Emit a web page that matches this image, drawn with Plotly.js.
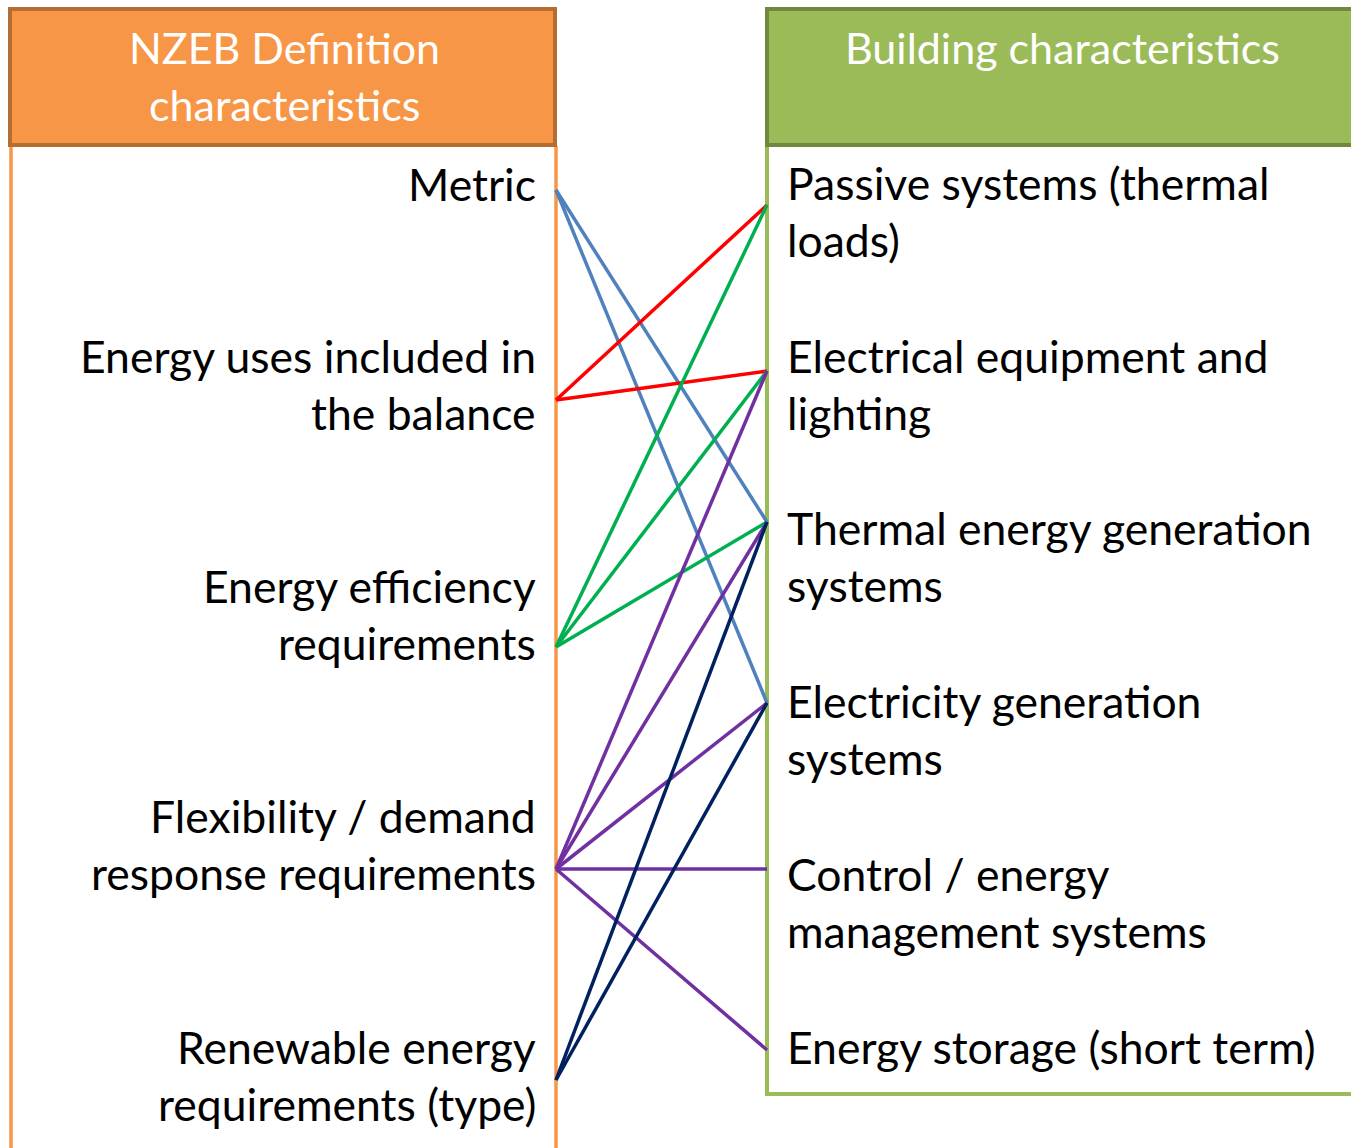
<!DOCTYPE html>
<html>
<head>
<meta charset="utf-8">
<script src="https://cdn.plot.ly/plotly-3.0.1.min.js"></script>
<style>html,body{margin:0;padding:0;background:#fff;}#chart{width:1351px;height:1148px;}</style>
</head>
<body>
<div id="chart"></div>
<script>
// ---- data ----
const leftTitle = ["NZEB Definition", "characteristics"];
const rightTitle = ["Building characteristics"];
const leftLabels = [
  ["Metric"],
  ["Energy uses included in", "the balance"],
  ["Energy efficiency", "requirements"],
  ["Flexibility / demand", "response requirements"],
  ["Renewable energy", "requirements (type)"]
];
const rightLabels = [
  ["Passive systems (thermal", "loads)"],
  ["Electrical equipment and", "lighting"],
  ["Thermal energy generation", "systems"],
  ["Electricity generation", "systems"],
  ["Control / energy", "management systems"],
  ["Energy storage (short term)"]
];
// links: [left index, right index]
const linkSource = [0, 0, 1, 1, 2, 2, 2, 3, 3, 3, 3, 3, 4, 4];
const linkTarget = [2, 3, 0, 1, 0, 1, 2, 1, 2, 3, 4, 5, 2, 3];
const sourceColors = ["#4F81BD", "#FF0000", "#00B050", "#7030A0", "#002060"];

// ---- layout config ----
const W = 1351, H = 1148;
const xL = 556, xR = 767;
const leftNodeY = [190, 400, 647, 869, 1080];
const rightNodeY = [205, 371, 522, 703, 869, 1050];
const leftTextY = [183, 355, 585, 815, 1046];
const rightTextY = [182, 355, 527, 700, 873, 1046];
const lineGap = 57;
const FONT = "Lato, 'Open Sans', sans-serif";
const FS = 44.5;
const FSH = 43;

const traces = [];
for (let i = 0; i < linkSource.length; i++) {
  const s = linkSource[i], t = linkTarget[i];
  traces.push({
    type: "scatter", mode: "lines",
    x: [xL, xR], y: [leftNodeY[s], rightNodeY[t]],
    line: {color: sourceColors[s], width: 3.5},
    hoverinfo: "skip", showlegend: false
  });
}

const annotations = [];
leftLabels.forEach((lines, i) => {
  lines.forEach((ln, j) => annotations.push({
    x: 538, y: leftTextY[i] + j * lineGap, xref: "x", yref: "y",
    text: ln, showarrow: false, xanchor: "right", yanchor: "middle",
    font: {family: FONT, size: FS, color: "#000"}
  }));
});
rightLabels.forEach((lines, i) => {
  lines.forEach((ln, j) => annotations.push({
    x: 785, y: rightTextY[i] + j * lineGap, xref: "x", yref: "y",
    text: ln, showarrow: false, xanchor: "left", yanchor: "middle",
    font: {family: FONT, size: FS, color: "#000"}
  }));
});
leftTitle.forEach((ln, j) => annotations.push({
  x: 284, y: 47 + j * lineGap, xref: "x", yref: "y", text: ln, showarrow: false,
  xanchor: "center", yanchor: "middle", font: {family: FONT, size: FSH, color: "#fff"}
}));
rightTitle.forEach((ln, j) => annotations.push({
  x: 1062, y: 47 + j * lineGap, xref: "x", yref: "y", text: ln, showarrow: false,
  xanchor: "center", yanchor: "middle", font: {family: FONT, size: FSH, color: "#fff"}
}));

const shapes = [
  // left body sides
  {type: "line", x0: 11, x1: 11, y0: 146, y1: H + 5, line: {color: "#F79646", width: 3.5}, layer: "below"},
  {type: "line", x0: xL, x1: xL, y0: 146, y1: H + 5, line: {color: "#F79646", width: 3.5}, layer: "below"},
  // right body
  {type: "path", path: `M ${W + 10} 1094 L ${xR} 1094 L ${xR} 146`, line: {color: "#9BBB59", width: 4}, layer: "below"},
  // headers
  {type: "rect", x0: 10, x1: 555, y0: 9, y1: 145, fillcolor: "#F79646", line: {color: "#B66D31", width: 4}, layer: "below"},
  {type: "rect", x0: xR, x1: W + 10, y0: 9, y1: 145, fillcolor: "#9BBB59", line: {color: "#71893F", width: 4}, layer: "below"}
];

const layout = {
  width: W, height: H,
  margin: {l: 0, r: 0, t: 0, b: 0, pad: 0},
  paper_bgcolor: "#fff", plot_bgcolor: "#fff",
  xaxis: {range: [0, W], visible: false, fixedrange: true},
  yaxis: {range: [H, 0], visible: false, fixedrange: true},
  shapes: shapes, annotations: annotations, showlegend: false
};

Plotly.newPlot("chart", traces, layout, {displayModeBar: false, staticPlot: true});
</script>
</body>
</html>
